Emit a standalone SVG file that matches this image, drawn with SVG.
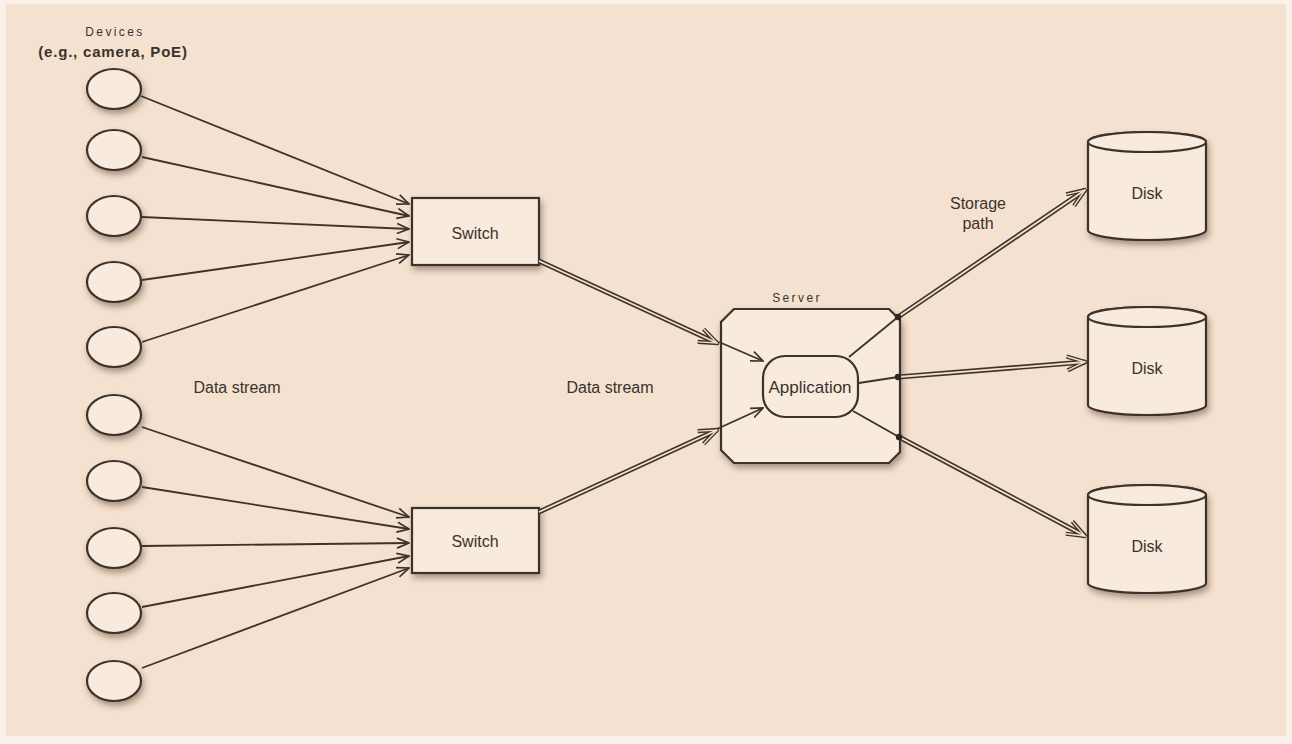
<svg xmlns="http://www.w3.org/2000/svg" width="1292" height="744" viewBox="0 0 1292 744">
<style>
.node{fill:#f8eadd;stroke:#3d332b;stroke-width:2.2}
.lbl{font-family:"Liberation Sans",Arial,sans-serif;fill:#3a332d;text-anchor:middle;dominant-baseline:central}
.small{font-size:12px;letter-spacing:2.4px}
.mid{font-size:16px}
.ln{fill:none;stroke:#3d332b;stroke-width:1.8;marker-end:url(#arr)}
.ln2{fill:none;stroke:#3d332b;stroke-width:1.8}
.dbo{fill:none;stroke:#3d332b;stroke-width:5;marker-end:url(#arrD)}
.dbi{fill:none;stroke:#f3dfcc;stroke-width:1.8;marker-end:url(#arrL)}
</style>
<defs>
<filter id="sh" x="-20%" y="-20%" width="150%" height="160%">
<feDropShadow dx="2" dy="4" stdDeviation="3" flood-color="#4a3526" flood-opacity="0.45"/>
</filter>
<marker id="arr" viewBox="0 0 14 12" refX="13" refY="6" markerWidth="14" markerHeight="12" markerUnits="userSpaceOnUse" orient="auto">
<path d="M1,1 L13,6 L1,11" fill="none" stroke="#3d332b" stroke-width="1.7"/>
</marker>
<marker id="arrD" viewBox="0 0 22 18" refX="20" refY="9" markerWidth="22" markerHeight="18" markerUnits="userSpaceOnUse" orient="auto">
<path d="M2,2 L20,9 L2,16" fill="none" stroke="#3d332b" stroke-width="4.2"/>
</marker>
<marker id="arrL" viewBox="0 0 22 18" refX="20" refY="9" markerWidth="22" markerHeight="18" markerUnits="userSpaceOnUse" orient="auto">
<path d="M2,2 L20,9 L2,16" fill="none" stroke="#f3dfcc" stroke-width="1.4"/>
</marker>
</defs>
<rect x="0" y="0" width="1292" height="744" fill="#fbf1e8"/>
<rect x="6" y="4" width="1280" height="732" fill="#f5e1cf"/>

<g id="devices-label">
<text class="lbl small" x="115" y="32">Devices</text>
<text class="lbl" x="113" y="51" style="font-size:15px;font-weight:bold;letter-spacing:0.8px">(e.g., camera, PoE)</text>
</g>

<g id="device1"><ellipse class="node" filter="url(#sh)" cx="114" cy="89" rx="27" ry="20"/></g>
<g id="device2"><ellipse class="node" filter="url(#sh)" cx="114" cy="150" rx="27" ry="20"/></g>
<g id="device3"><ellipse class="node" filter="url(#sh)" cx="114" cy="216" rx="27" ry="20"/></g>
<g id="device4"><ellipse class="node" filter="url(#sh)" cx="114" cy="282" rx="27" ry="20"/></g>
<g id="device5"><ellipse class="node" filter="url(#sh)" cx="114" cy="347" rx="27" ry="20"/></g>
<g id="device6"><ellipse class="node" filter="url(#sh)" cx="114" cy="415" rx="27" ry="20"/></g>
<g id="device7"><ellipse class="node" filter="url(#sh)" cx="114" cy="481" rx="27" ry="20"/></g>
<g id="device8"><ellipse class="node" filter="url(#sh)" cx="114" cy="548" rx="27" ry="20"/></g>
<g id="device9"><ellipse class="node" filter="url(#sh)" cx="114" cy="613" rx="27" ry="20"/></g>
<g id="device10"><ellipse class="node" filter="url(#sh)" cx="114" cy="681" rx="27" ry="20"/></g>

<g id="label-datastream-1"><text class="lbl mid" x="237" y="387">Data stream</text></g>
<g id="label-datastream-2"><text class="lbl mid" x="610" y="387">Data stream</text></g>

<g id="switch-top">
<rect class="node" filter="url(#sh)" x="412" y="198" width="127" height="67"/>
<text class="lbl mid" x="475" y="233">Switch</text>
</g>
<g id="switch-bottom">
<rect class="node" filter="url(#sh)" x="412" y="508" width="127" height="65"/>
<text class="lbl mid" x="475" y="541">Switch</text>
</g>

<g id="server">
<text class="lbl small" x="797" y="298">Server</text>
<path class="node" filter="url(#sh)" d="M734,309 H889 L900,320 V452 L889,463 H734 L721,450 V322 Z"/>
</g>

<g id="label-storage">
<text class="lbl mid" x="978" y="203">Storage</text>
<text class="lbl mid" x="978" y="223">path</text>
</g>

<g id="disk1">
<path class="node" filter="url(#sh)" d="M1088,142 V230 A59,10 0 0 0 1206,230 V142 A59,10 0 0 0 1088,142 Z"/>
<ellipse class="node" cx="1147" cy="142" rx="59" ry="10"/>
<text class="lbl mid" x="1147" y="193">Disk</text>
</g>
<g id="disk2">
<path class="node" filter="url(#sh)" d="M1088,317 V405 A59,10 0 0 0 1206,405 V317 A59,10 0 0 0 1088,317 Z"/>
<ellipse class="node" cx="1147" cy="317" rx="59" ry="10"/>
<text class="lbl mid" x="1147" y="368">Disk</text>
</g>
<g id="disk3">
<path class="node" filter="url(#sh)" d="M1088,495 V583 A59,10 0 0 0 1206,583 V495 A59,10 0 0 0 1088,495 Z"/>
<ellipse class="node" cx="1147" cy="495" rx="59" ry="10"/>
<text class="lbl mid" x="1147" y="546">Disk</text>
</g>

<g id="connectors">
<!-- devices to top switch -->
<path class="ln" d="M141,96 L409,204"/>
<path class="ln" d="M142,157 L409,216"/>
<path class="ln" d="M142,217 L409,229"/>
<path class="ln" d="M142,280 L409,242"/>
<path class="ln" d="M142,342 L409,255"/>
<!-- devices to bottom switch -->
<path class="ln" d="M142,427 L409,517"/>
<path class="ln" d="M142,487 L409,529"/>
<path class="ln" d="M142,546 L409,543"/>
<path class="ln" d="M142,607 L409,556"/>
<path class="ln" d="M142,668 L409,568"/>
<!-- switches to server (double) -->
<path class="dbo" d="M539,261 L717,343"/>
<path class="dbi" d="M539,261 L717,343"/>
<path class="dbo" d="M539,512 L717,430"/>
<path class="dbi" d="M539,512 L717,430"/>
<!-- inside server to application -->
<path class="ln" d="M719,342 L763,361"/>
<path class="ln" d="M717,429 L763,408"/>
<!-- application to server edge -->
<path class="ln2" d="M849,357 L898,317"/>
<path class="ln2" d="M859,383 L898,377"/>
<path class="ln2" d="M853,411 L899,437"/>
<!-- server to disks (double) -->
<path class="dbo" d="M898,317 L1085,190"/>
<path class="dbi" d="M898,317 L1085,190"/>
<path class="dbo" d="M898,377 L1085,362"/>
<path class="dbi" d="M898,377 L1085,362"/>
<path class="dbo" d="M899,437 L1085,536"/>
<path class="dbi" d="M899,437 L1085,536"/>
<circle cx="898" cy="317" r="3.2" fill="#2e2620"/>
<circle cx="898" cy="377" r="3.2" fill="#2e2620"/>
<circle cx="899" cy="437" r="3.2" fill="#2e2620"/>
</g>

<g id="application">
<rect class="node" x="763" y="356" width="95" height="61" rx="22" ry="22"/>
<text class="lbl" x="810" y="387" style="font-size:17px">Application</text>
</g>
</svg>
